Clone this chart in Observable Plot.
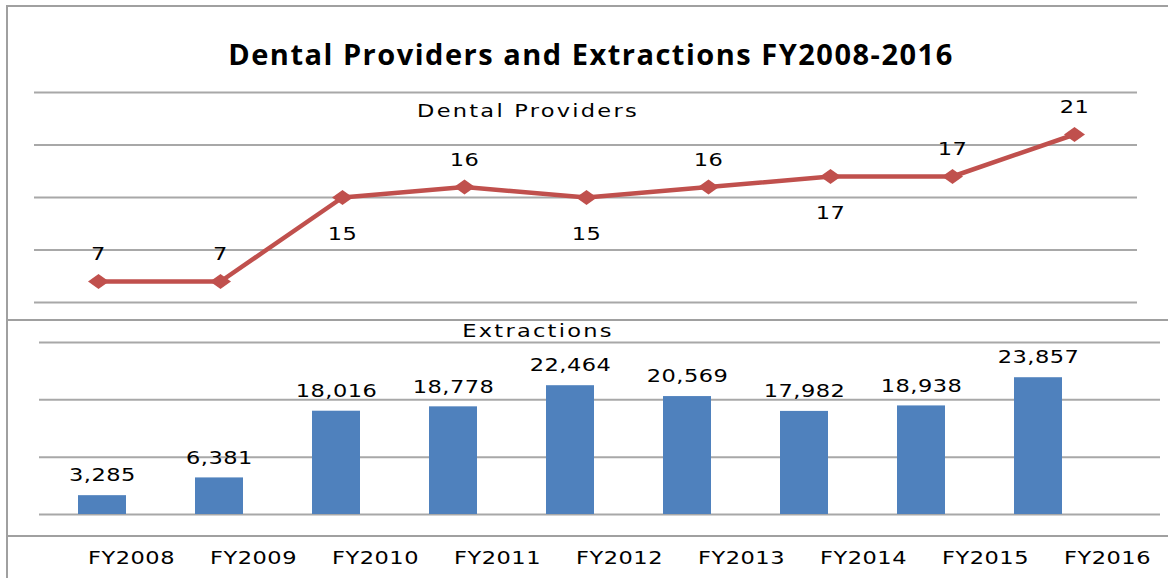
<!DOCTYPE html>
<html>
<head>
<meta charset="utf-8">
<script src="https://cdn.jsdelivr.net/npm/d3@7"></script>
<script src="https://cdn.jsdelivr.net/npm/@observablehq/plot@0.6"></script>
<style>
  html, body { margin: 0; padding: 0; background: #fff; }
  #wrap { position: relative; width: 1168px; height: 578px; overflow: hidden; background: #fff; font-family: "DejaVu Sans", sans-serif; }
  .abs { position: absolute; }
  .hline { position: absolute; height: 2px; background: #a0a0a0; }
  .vline { position: absolute; width: 2px; background: #a0a0a0; }
  #title { position: absolute; left: 0; width: 1182px; top: 34px; text-align: center; font-family: "Open Sans", sans-serif; font-weight: 700; font-size: 29px; letter-spacing: 1.5px; color: #000; }
  .panelTitle { position: absolute; font-size: 18px; letter-spacing: 1.8px; color: #000; transform: translateX(-50%) scaleX(1.25); white-space: nowrap; }
</style>
</head>
<body>
<div id="wrap">
  <div class="hline" style="left:6px; top:5px; width:1162px;"></div>
  <div class="vline" style="left:6px; top:5px; height:573px;"></div>
  <div class="hline" style="left:6px; top:319px; width:1162px;"></div>
  <div class="hline" style="left:6px; top:535px; width:1162px;"></div>
  <div id="title">Dental Providers and Extractions FY2008-2016</div>
  <div id="topPlot" class="abs" style="left:0; top:70px;"></div>
  <div id="botPlot" class="abs" style="left:0; top:320px;"></div>
  <div id="axisPlot" class="abs" style="left:0; top:537px;"></div>
  <div class="panelTitle" style="left:528px; top:100px;">Dental Providers</div>
  <div class="panelTitle" style="left:538px; top:320px;">Extractions</div>
</div>
<script>
const years = ["FY2008","FY2009","FY2010","FY2011","FY2012","FY2013","FY2014","FY2015","FY2016"];
const providers = [7, 7, 15, 16, 15, 16, 17, 17, 21];
const providerLabelSide = ["above","above","below","above","below","above","below","above","above"];
const extractions = [3285, 6381, 18016, 18778, 22464, 20569, 17982, 18938, 23857];
const providerTicks = [5, 10, 15, 20, 25];
const extractionTicks = [0, 10000, 20000, 30000];

const provData = years.map((y, i) => ({year: y, value: providers[i], side: providerLabelSide[i]}));
const extData = years.map((y, i) => ({year: y, value: extractions[i]}));

const lineColor = "#c0504d";
const barColor = "#4f81bd";
const gridColor = "#a8a8a8";
const fmt = d3.format(",");

const wideDiamond = {
  draw(ctx, size) {
    const w = 10.5, h = 7.5;
    ctx.moveTo(-w, 0);
    ctx.lineTo(0, -h);
    ctx.lineTo(w, 0);
    ctx.lineTo(0, h);
    ctx.closePath();
  }
};

const textStyle = {fontFamily: "DejaVu Sans, sans-serif", background: "transparent", overflow: "visible", letterSpacing: "0.4px"};

// widen the glyphs horizontally, as in the reference rendering
function stretchText(svg, k) {
  svg.querySelectorAll("text").forEach(t => {
    const tr = t.getAttribute("transform") || "";
    t.setAttribute("transform", (tr + ` scale(${k},1)`).trim());
  });
  return svg;
}

const topPlot = Plot.plot({
  width: 1168,
  height: 250,
  marginTop: 22,
  marginBottom: 18,
  marginLeft: 34,
  marginRight: 31,
  style: textStyle,
  x: {type: "point", domain: years, padding: 0.5, axis: null},
  y: {domain: [5, 25], axis: null},
  marks: [
    Plot.ruleY(providerTicks, {stroke: gridColor, strokeWidth: 2}),
    Plot.line(provData, {x: "year", y: "value", stroke: lineColor, strokeWidth: 4.5, curve: "linear"}),
    Plot.dot(provData, {x: "year", y: "value", symbol: wideDiamond, fill: lineColor, stroke: "none", r: 5}),
    Plot.text(provData.filter(d => d.side === "above"), {x: "year", y: "value", text: d => String(d.value), dy: -27, fontSize: 18, fill: "#000"}),
    Plot.text(provData.filter(d => d.side === "below"), {x: "year", y: "value", text: d => String(d.value), dy: 37, fontSize: 18, fill: "#000"})
  ]
});
document.getElementById("topPlot").appendChild(stretchText(topPlot, 1.25));

const botPlot = Plot.plot({
  width: 1168,
  height: 216,
  marginTop: 22,
  marginBottom: 22,
  marginLeft: 39,
  marginRight: 8,
  style: textStyle,
  x: {type: "band", domain: years, range: [40, 1100], paddingInner: 0.59, paddingOuter: 0.295, axis: null},
  y: {domain: [0, 30000], axis: null},
  marks: [
    Plot.ruleY(extractionTicks, {stroke: gridColor, strokeWidth: 2}),
    Plot.barY(extData, {x: "year", y: "value", fill: barColor}),
    Plot.text(extData, {x: "year", y: "value", text: d => fmt(d.value), dy: -20, fontSize: 18, fill: "#000"})
  ]
});
document.getElementById("botPlot").appendChild(stretchText(botPlot, 1.25));

const axisPlot = Plot.plot({
  width: 1168,
  height: 41,
  marginTop: 0,
  marginBottom: 0,
  marginLeft: 0,
  marginRight: 0,
  style: textStyle,
  x: {type: "point", domain: years, range: [130, 1107], padding: 0, axis: null},
  y: {domain: [0, 1], axis: null},
  marks: [
    Plot.text(years, {x: d => d, y: 0.5, text: d => d, fontSize: 18, fill: "#000"})
  ]
});
document.getElementById("axisPlot").appendChild(stretchText(axisPlot, 1.25));
</script>
</body>
</html>
